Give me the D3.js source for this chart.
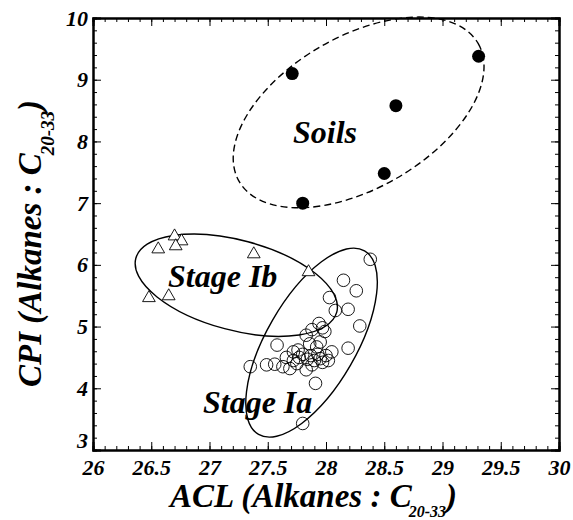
<!DOCTYPE html>
<html>
<head>
<meta charset="utf-8">
<script src="https://cdn.jsdelivr.net/npm/d3@7"></script>
<style>
  body { margin: 0; background: #fff; }
  text { font-family: "Liberation Serif", "Times New Roman", serif; font-weight: bold; font-style: italic; }
</style>
</head>
<body>
<div id="chart"></div>
<script>
// Values (ACL, CPI)
const soils = [[27.71, 9.1], [29.31, 9.38], [28.6, 8.58], [28.5, 7.48], [27.8, 7.0]];
const stageIb = [[26.56, 6.27], [26.7, 6.48], [26.76, 6.4], [26.71, 6.32], [27.38, 6.19],
                 [26.48, 5.48], [26.65, 5.51], [27.85, 5.9]];
const stageIa = [[28.38, 6.09], [28.15, 5.75], [28.26, 5.58], [28.03, 5.47], [28.19, 5.28],
                 [28.08, 5.26], [28.29, 5.01], [27.94, 5.05], [27.88, 4.95], [27.99, 4.92],
                 [27.83, 4.86], [27.97, 4.98], [27.58, 4.7], [28.19, 4.65], [27.92, 4.67],
                 [27.72, 4.59], [28.05, 4.59], [27.8, 4.55], [27.87, 4.53], [27.93, 4.55],
                 [28.0, 4.53], [27.77, 4.5], [27.84, 4.47], [27.9, 4.45], [27.95, 4.48],
                 [28.02, 4.45], [27.35, 4.35], [27.49, 4.38], [27.56, 4.39], [27.63, 4.35],
                 [27.69, 4.32], [27.75, 4.4], [27.83, 4.3], [27.88, 4.38], [27.97, 4.42],
                 [27.91, 4.08], [27.8, 3.43], [27.86, 4.72], [27.95, 4.75], [27.76, 4.62],
                 [27.66, 4.5], [27.72, 4.45]];
const xTicks = [26, 26.5, 27, 27.5, 28, 28.5, 29, 29.5, 30];
const yTicks = [3, 4, 5, 6, 7, 8, 9, 10];
// group labels with their anchor in data units
const groupNames = ["Soils", "Stage Ib", "Stage Ia"];
const groupLabelAt = [[27.717, 7.974], [26.644, 5.64], [26.944, 3.598]];

const width = 573, height = 520;
const margin = { top: 18, right: 14, bottom: 70, left: 93 };

const svg = d3.select("#chart").append("svg")
    .attr("width", width)
    .attr("height", height);

const x = d3.scaleLinear().domain([26, 30]).range([margin.left, width - margin.right]);
const y = d3.scaleLinear().domain([3, 10]).range([height - margin.bottom, margin.top]);

// group ellipses: centre in data units, semi axes in px, rotation in degrees
const ellipses = [
    { c: [28.28, 8.47], a: 138, b: 76, rot: -30, dash: "7,4" },
    { c: [27.23, 5.67], a: 104, b: 45, rot: 15, dash: null },
    { c: [27.876, 4.74], a: 106, b: 45, rot: -60, dash: null }
];

svg.append("g").selectAll("ellipse")
    .data(ellipses)
    .enter().append("ellipse")
    .attr("cx", 0).attr("cy", 0)
    .attr("rx", d => d.a).attr("ry", d => d.b)
    .attr("transform", d => `translate(${x(d.c[0])},${y(d.c[1])}) rotate(${d.rot})`)
    .attr("fill", "none")
    .attr("stroke", "#000")
    .attr("stroke-width", 1.4)
    .attr("stroke-dasharray", d => d.dash);

// points
svg.append("g").selectAll("circle.ia")
    .data(stageIa)
    .enter().append("circle")
    .attr("class", "ia")
    .attr("cx", d => x(d[0])).attr("cy", d => y(d[1]))
    .attr("r", 6.3)
    .attr("fill", "none")
    .attr("stroke", "#000")
    .attr("stroke-width", 0.9);

const tri = d3.symbol().type(d3.symbolTriangle).size(70);
svg.append("g").selectAll("path")
    .data(stageIb)
    .enter().append("path")
    .attr("d", tri)
    .attr("transform", d => `translate(${x(d[0])},${y(d[1]) + 1})`)
    .attr("fill", "#fff")
    .attr("stroke", "#000")
    .attr("stroke-width", 0.9);

svg.append("g").selectAll("circle.soil")
    .data(soils)
    .enter().append("circle")
    .attr("class", "soil")
    .attr("cx", d => x(d[0])).attr("cy", d => y(d[1]))
    .attr("r", 6.5)
    .attr("fill", "#000");

// labels inside the plot
svg.append("g").selectAll("text")
    .data(groupNames)
    .enter().append("text")
    .attr("x", (d, i) => x(groupLabelAt[i][0]))
    .attr("y", (d, i) => y(groupLabelAt[i][1]))
    .attr("font-size", 32)
    .text(d => d);

// axes with inward ticks on all four sides
const minorX = d3.range(26, 30.001, 0.1);
const minorY = d3.range(3, 10.001, 0.2);
const axes = svg.append("g");

function addAxis(axisFn, scale, minor, major, pos, labels, pad) {
    const gMinor = axes.append("g").attr("transform", pos)
        .call(axisFn(scale).tickValues(minor).tickSize(-4).tickFormat(""));
    const gMajor = axes.append("g").attr("transform", pos)
        .call(axisFn(scale).tickValues(major).tickSize(-8).tickPadding(pad || 3)
            .tickFormat(labels ? (d => d) : ""));
    [gMinor, gMajor].forEach(g => {
        g.selectAll(".domain").attr("stroke-width", 2);
        g.selectAll(".tick line").attr("stroke-width", 1);
    });
    gMajor.selectAll("text")
        .attr("font-size", 22)
        .attr("font-family", "Liberation Serif")
        .attr("font-weight", "bold")
        .attr("font-style", "italic");
    return gMajor;
}

const bottom = addAxis(d3.axisBottom, x, minorX, xTicks, `translate(0,${y(3)})`, true, 9);
addAxis(d3.axisTop, x, minorX, xTicks, `translate(0,${y(10)})`, false);
const left = addAxis(d3.axisLeft, y, minorY, yTicks, `translate(${x(26)},0)`, true, 5);
addAxis(d3.axisRight, y, minorY, yTicks, `translate(${x(30)},0)`, false);

left.selectAll(".tick").filter(d => d === 3).select("text").attr("dy", "-0.1em");

// axis titles
const xTitle = svg.append("text")
    .attr("x", 170)
    .attr("y", 507)
    .attr("font-size", 33);
xTitle.append("tspan").text("ACL (Alkanes : C");
xTitle.append("tspan").attr("font-size", 16).attr("dx", -3).attr("dy", 10).text("20-33");
xTitle.append("tspan").attr("dy", -10).text(")");

const yTitle = svg.append("text")
    .attr("transform", "translate(41,387) rotate(-90)")
    .attr("font-size", 33);
yTitle.append("tspan").text("CPI (Alkanes : C");
yTitle.append("tspan").attr("font-size", 19).attr("dx", -2).attr("dy", 13).text("20-33");
yTitle.append("tspan").attr("dy", -13).text(")");
</script>
</body>
</html>
